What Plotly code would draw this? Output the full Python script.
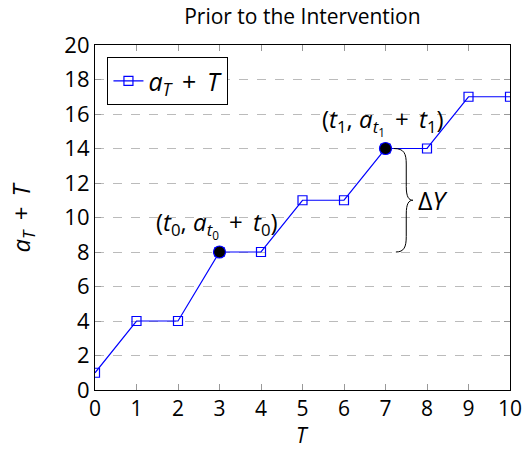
import plotly.graph_objects as go

# Step series a_T + T over T
T = [0, 1, 2, 3, 4, 5, 6, 7, 8, 9, 10]
values = [1, 4, 4, 8, 8, 11, 11, 14, 14, 17, 17]

# Highlighted points (t0, a_t0 + t0) and (t1, a_t1 + t1)
hl_T = [3, 7]
hl_values = [8, 14]

y_ticks = [0, 2, 4, 6, 8, 10, 12, 14, 16, 18, 20]

FONT = "Open Sans"
BLUE = "#0000ff"
SP = "\u2009"  # thin space around binary operators

fig = go.Figure()

fig.add_trace(go.Scatter(
    x=T, y=values, mode="lines+markers",
    line=dict(color=BLUE, width=1.2),
    marker=dict(symbol="square-open", size=9, color=BLUE, line=dict(width=1.2)),
    name=f"<i>a<sub>T</sub></i>{SP} + {SP}<i>T</i>",
))

fig.add_trace(go.Scatter(
    x=hl_T, y=hl_values, mode="markers",
    marker=dict(symbol="circle", size=12, color="black", line=dict(color=BLUE, width=1.2)),
    showlegend=False,
))

# Curly brace spanning the two highlighted levels
y_top, y_bot = hl_values[1], hl_values[0]
y_mid = (y_top + y_bot) / 2
xa, xb, xc = 7.2, 7.5, 7.66
brace = (
    f"M {xa},{y_top} C {xa + 0.25},{y_top} {xb},{y_top - 0.3} {xb},{y_top - 0.9} "
    f"L {xb},{y_mid + 0.8} C {xb},{y_mid + 0.2} {xb + 0.06},{y_mid} {xc},{y_mid} "
    f"C {xb + 0.06},{y_mid} {xb},{y_mid - 0.2} {xb},{y_mid - 0.8} "
    f"L {xb},{y_bot + 0.9} C {xb},{y_bot + 0.3} {xa + 0.25},{y_bot} {xa + 0.05},{y_bot}"
)
fig.add_shape(type="path", path=brace, xref="x", yref="y",
              line=dict(color="black", width=1))

fig.add_annotation(x=xc + 0.08, y=y_mid, text="Δ<i>Y</i>", showarrow=False,
                   xanchor="left", yanchor="middle",
                   font=dict(size=25, color="black", family=FONT))

for t, v, k in zip(hl_T, hl_values, ["0", "1"]):
    fig.add_annotation(
        x=t - 0.05, y=v + 1.6,
        text=(f"(<i>t</i><sub>{k}</sub>, <i>a</i><sub><i>t</i><sub>{k}</sub></sub>"
              f"{SP} + {SP}<i>t</i><sub>{k}</sub>)"),
        showarrow=False, font=dict(size=24, color="black", family=FONT))

# Axis titles
fig.add_annotation(x=0.5, y=0, xref="paper", yref="paper", yshift=-60,
                   text="<i>T</i>", showarrow=False, yanchor="bottom", borderpad=0,
                   font=dict(size=21, color="black", family=FONT))
fig.add_annotation(x=0, y=0.5, xref="paper", yref="paper", xshift=-74,
                   text=f"<i>a<sub>T</sub></i>{SP} + {SP}<i>T</i>", showarrow=False,
                   textangle=-90, xanchor="center",
                   font=dict(size=24, color="black", family=FONT))

fig.update_layout(
    width=525, height=450,
    margin=dict(l=95, r=15, t=45, b=60, autoexpand=False),
    paper_bgcolor="white", plot_bgcolor="white",
    font=dict(family=FONT, color="black"),
    title=dict(text="Prior to the Intervention", x=0.576, xanchor="center",
               y=0.963, yanchor="middle", font=dict(size=21, color="black", family=FONT)),
    legend=dict(x=0.03, y=0.965, xanchor="left", yanchor="top",
                bordercolor="black", borderwidth=1, bgcolor="white",
                font=dict(size=25, family=FONT)),
    showlegend=True,
)

fig.update_xaxes(
    range=[0, 10], tickvals=T, ticks="inside", ticklen=6, tickcolor="#999999",
    showline=True, linecolor="black", linewidth=1.2, mirror="ticks",
    showgrid=False, zeroline=False, tickfont=dict(size=21), automargin=False,
)
fig.update_yaxes(
    range=[0, 20], tickvals=y_ticks, ticks="inside", ticklen=6, tickcolor="#999999",
    showline=True, linecolor="black", linewidth=1.2, mirror="ticks",
    showgrid=True, gridcolor="#bbbbbb", griddash="dash", gridwidth=1,
    zeroline=False, tickfont=dict(size=22), automargin=False,
)

fig.write_html("out.html")
